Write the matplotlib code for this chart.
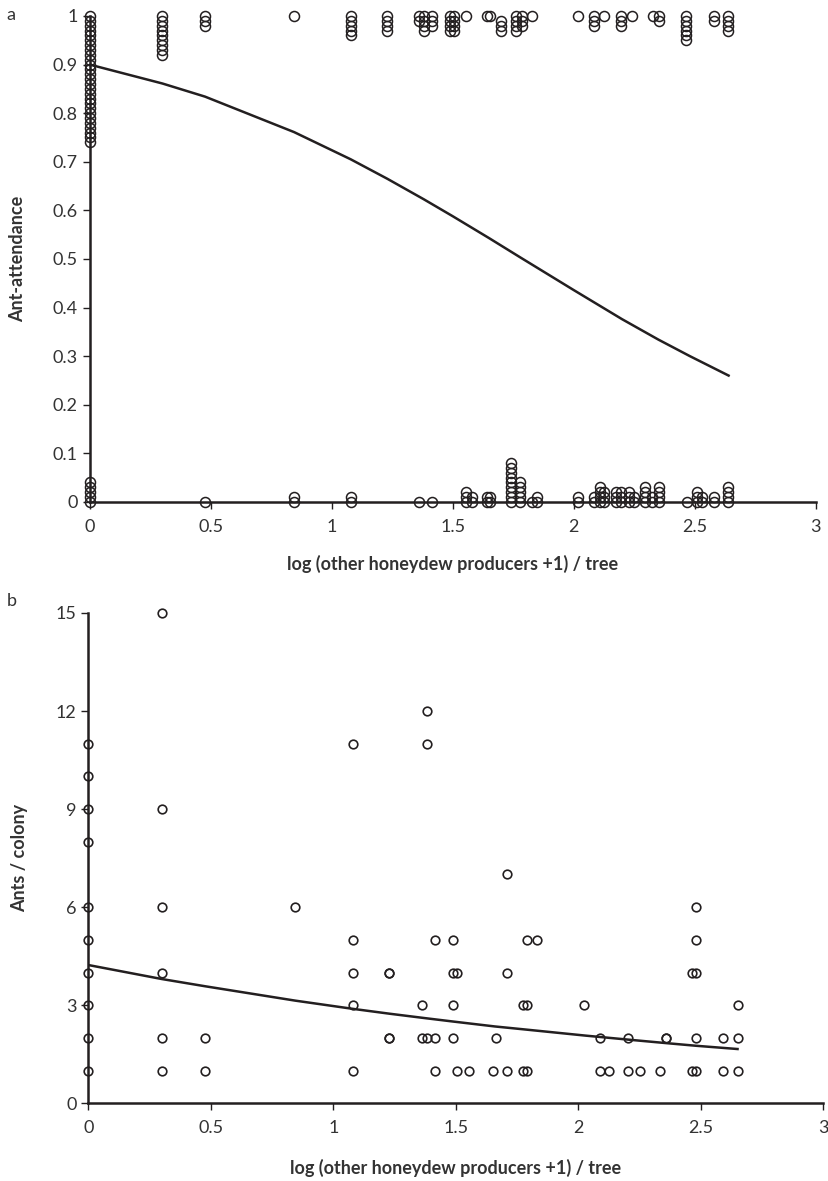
"""Ant-attendance and ants per colony against other honeydew producers."""

import matplotlib
matplotlib.use("Agg")
import matplotlib.pyplot as plt

plt.rcParams["font.family"] = ["Lato", "DejaVu Sans"]

INK = "#231f20"
TEXT = "#333333"
FS = 13

# ---- panel a: ant-attendance (columns of stacked points) ----
a_top = [
    (0.0, [1.00, 0.99, 0.98, 0.97, 0.96, 0.95, 0.94, 0.93, 0.92, 0.91, 0.90, 0.89, 0.88, 0.87,
           0.86, 0.85, 0.84, 0.83, 0.82, 0.81, 0.80, 0.79, 0.78, 0.77, 0.76, 0.75, 0.74]),
    (0.301, [1.00, 0.99, 0.98, 0.97, 0.96, 0.95, 0.94, 0.93, 0.92]),
    (0.477, [1.00, 0.99, 0.98]),
    (0.845, [1.00]),
    (1.079, [1.00, 0.99, 0.98, 0.97, 0.96]),
    (1.23, [1.00, 0.99, 0.98, 0.97]),
    (1.362, [1.00, 0.99]),
    (1.38, [1.00, 0.99, 0.98, 0.97]),
    (1.415, [1.00, 0.99, 0.98]),
    (1.49, [1.00, 0.99, 0.98, 0.97]),
    (1.505, [1.00, 0.99, 0.98, 0.97]),
    (1.556, [1.00]),
    (1.643, [1.00]),
    (1.653, [1.00]),
    (1.699, [0.99, 0.98, 0.97]),
    (1.763, [1.00, 0.99, 0.98, 0.97]),
    (1.785, [1.00, 0.99, 0.98]),
    (1.826, [1.00]),
    (2.017, [1.00]),
    (2.083, [1.00, 0.99, 0.98]),
    (2.124, [1.00]),
    (2.196, [1.00, 0.99, 0.98]),
    (2.243, [1.00]),
    (2.326, [1.00]),
    (2.352, [1.00, 0.99]),
    (2.462, [1.00, 0.99, 0.98, 0.97, 0.96, 0.95]),
    (2.58, [1.00, 0.99]),
    (2.637, [1.00, 0.99, 0.98, 0.97]),
]
a_bottom = [
    (0.0, [0.04, 0.03, 0.02, 0.01, 0.00]),
    (0.477, [0.00]),
    (0.845, [0.01, 0.00]),
    (1.079, [0.01, 0.00]),
    (1.362, [0.00]),
    (1.415, [0.00]),
    (1.556, [0.02, 0.01, 0.00]),
    (1.58, [0.01, 0.00]),
    (1.643, [0.01, 0.00]),
    (1.653, [0.01, 0.00]),
    (1.74, [0.08, 0.07, 0.06, 0.05, 0.04, 0.03, 0.02, 0.01, 0.00]),
    (1.778, [0.04, 0.03, 0.02, 0.01, 0.00]),
    (1.826, [0.00]),
    (1.85, [0.01, 0.00]),
    (2.017, [0.01, 0.00]),
    (2.083, [0.01, 0.00]),
    (2.11, [0.03, 0.02, 0.01, 0.00]),
    (2.124, [0.02, 0.01, 0.00]),
    (2.176, [0.02, 0.01, 0.00]),
    (2.196, [0.02, 0.01, 0.00]),
    (2.228, [0.02, 0.01, 0.00]),
    (2.25, [0.01, 0.00]),
    (2.294, [0.03, 0.02, 0.01, 0.00]),
    (2.322, [0.01, 0.00]),
    (2.352, [0.03, 0.02, 0.01, 0.00]),
    (2.47, [0.00]),
    (2.51, [0.02, 0.01, 0.00]),
    (2.53, [0.01, 0.00]),
    (2.58, [0.01, 0.00]),
    (2.637, [0.03, 0.02, 0.01, 0.00]),
]
a_fit_x = [0.0, 0.301, 0.477, 0.845, 1.079, 1.23, 1.38, 1.5, 1.65, 1.78, 2.0, 2.2, 2.35, 2.48, 2.64]
a_fit_y = [0.900, 0.861, 0.834, 0.761, 0.705, 0.665, 0.623, 0.588, 0.543, 0.503, 0.436, 0.376,
           0.334, 0.300, 0.260]

# ---- panel b: ants per colony ----
b_x = [0.0, 0.0, 0.0, 0.0, 0.0, 0.0, 0.0, 0.0, 0.0, 0.0,
       0.301, 0.301, 0.301, 0.301, 0.301, 0.301,
       0.477, 0.477, 0.845,
       1.079, 1.079, 1.079, 1.079, 1.079,
       1.229, 1.229, 1.229, 1.229,
       1.361, 1.361, 1.381, 1.381, 1.381,
       1.415, 1.415, 1.415,
       1.49, 1.49, 1.49, 1.49, 1.503, 1.504, 1.555,
       1.653, 1.664, 1.708, 1.708, 1.708,
       1.776, 1.776, 1.792, 1.792, 1.792, 1.833,
       2.025, 2.089, 2.089, 2.127, 2.204, 2.204, 2.252, 2.334, 2.358, 2.358,
       2.463, 2.463, 2.48, 2.48, 2.48, 2.48, 2.48,
       2.592, 2.592, 2.651, 2.651, 2.651]
b_y = [11, 10, 9, 8, 6, 5, 4, 3, 2, 1,
       15, 9, 6, 4, 2, 1,
       2, 1, 6,
       11, 5, 4, 3, 1,
       4, 4, 2, 2,
       3, 2, 12, 11, 2,
       5, 2, 1,
       5, 4, 3, 2, 4, 1, 1,
       1, 2, 7, 4, 1,
       3, 1, 5, 3, 1, 5,
       3, 2, 1, 1, 2, 1, 1, 1, 2, 2,
       4, 1, 6, 5, 4, 2, 1,
       2, 1, 3, 2, 1]
b_fit_x = [0.0, 0.301, 0.477, 0.845, 1.079, 1.23, 1.38, 1.49, 1.66, 1.78, 2.03, 2.2, 2.36, 2.48, 2.65]
b_fit_y = [4.23, 3.80, 3.58, 3.14, 2.89, 2.74, 2.60, 2.50, 2.35, 2.26, 2.07, 1.95, 1.84, 1.76, 1.66]

x_ticks = [0, 0.5, 1, 1.5, 2, 2.5, 3]
x_tick_labels = ["0", "0.5", "1", "1.5", "2", "2.5", "3"]
a_y_ticks = [0, 0.1, 0.2, 0.3, 0.4, 0.5, 0.6, 0.7, 0.8, 0.9, 1.0]
a_y_tick_labels = ["0", "0.1", "0.2", "0.3", "0.4", "0.5", "0.6", "0.7", "0.8", "0.9", "1"]
b_y_ticks = [0, 3, 6, 9, 12, 15]
x_label = "log (other honeydew producers +1) / tree"


def _style(ax):
    for side in ("top", "right"):
        ax.spines[side].set_visible(False)
    for side in ("left", "bottom"):
        ax.spines[side].set_color(INK)
        ax.spines[side].set_linewidth(1.8)
    ax.tick_params(colors=INK, labelcolor=TEXT, labelsize=FS, width=1.0, length=5,
                   direction="out")
    ax.tick_params(axis="x", pad=7)
    ax.set_xlim(0, 3)
    ax.set_xticks(x_ticks)
    ax.set_xticklabels(x_tick_labels)
    ax.set_xlabel(x_label, fontsize=FS, fontweight="bold", color=TEXT)


fig = plt.figure(figsize=(8.29, 11.81), dpi=100)

# panel a
ax_a = fig.add_axes([0.108, 0.575, 0.876, 0.4115])
_style(ax_a)
for cols in (a_top, a_bottom):
    for x, ys in cols:
        ax_a.plot([x] * len(ys), ys, "o", ms=7.2, mfc="none", mec=INK, mew=1.1, clip_on=False,
                  zorder=3)
ax_a.plot(a_fit_x, a_fit_y, color=INK, lw=1.8, zorder=2)
ax_a.set_ylim(0, 1)
ax_a.set_yticks(a_y_ticks)
ax_a.set_yticklabels(a_y_tick_labels)
ax_a.set_ylabel("Ant-attendance", fontsize=FS, fontweight="bold", color=TEXT)
ax_a.yaxis.set_label_coords(-0.087, 0.5)
ax_a.xaxis.set_label_coords(0.5, -0.108)

# panel b
ax_b = fig.add_axes([0.1065, 0.0658, 0.8866, 0.4152])
_style(ax_b)
ax_b.plot(b_x, b_y, "o", ms=6.2, mfc="none", mec=INK, mew=1.2, clip_on=False, zorder=3)
ax_b.plot(b_fit_x, b_fit_y, color=INK, lw=1.8, zorder=2)
ax_b.set_ylim(0, 15)
ax_b.set_yticks(b_y_ticks)
ax_b.set_ylabel("Ants / colony", fontsize=FS, fontweight="bold", color=TEXT)
ax_b.yaxis.set_label_coords(-0.082, 0.5)
ax_b.xaxis.set_label_coords(0.5, -0.113)

fig.text(0.008, 0.987, "a", fontsize=FS, color=TEXT, va="center")
fig.text(0.008, 0.491, "b", fontsize=FS, color=TEXT, va="center")

fig.savefig("out.png", dpi=100)
plt.close(fig)
